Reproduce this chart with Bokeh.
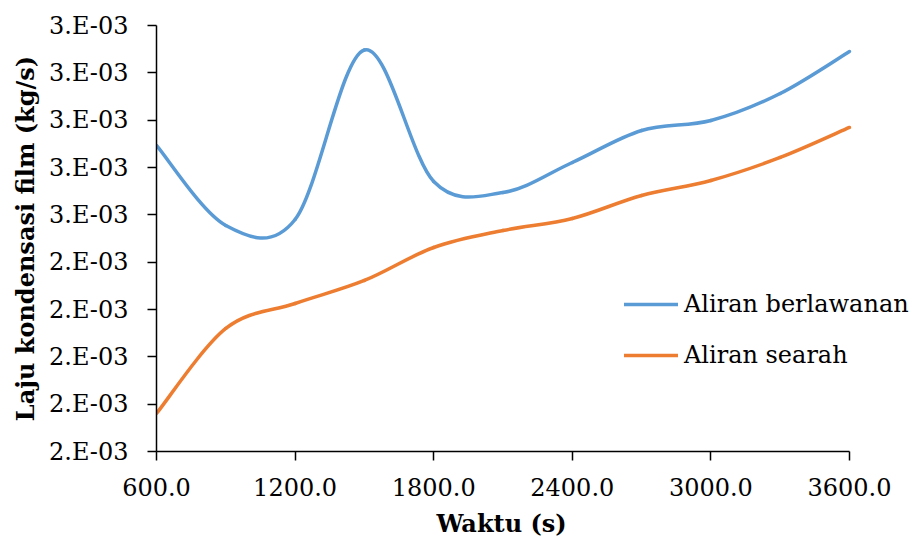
from bokeh.plotting import figure
from bokeh.models import Range1d, FixedTicker, Legend, LegendItem, ColumnDataSource, Title
from bokeh.embed import file_html
from bokeh.resources import INLINE

# ---- data ----
waktu = [600, 900, 1200, 1500, 1800, 2100, 2400, 2700, 3000, 3300, 3600]
berlawanan = [0.0026465, 0.0024775, 0.0024902, 0.0028483, 0.0025705, 0.0025472,
              0.0026106, 0.0026782, 0.0026993, 0.0027564, 0.0028451]
searah = [0.0020803, 0.0022599, 0.0023127, 0.0023613, 0.0024310, 0.0024669,
          0.0024923, 0.0025409, 0.0025726, 0.0026212, 0.0026846]
series_names = ["Aliran berlawanan", "Aliran searah"]
series_colors = ["#5B9BD5", "#ED7D31"]

x_ticks = [600, 1200, 1800, 2400, 3000, 3600]
x_tick_labels = ["600.0", "1200.0", "1800.0", "2400.0", "3000.0", "3600.0"]
y_ticks = [0.002, 0.0021, 0.0022, 0.0023, 0.0024, 0.0025, 0.0026, 0.0027, 0.0028, 0.0029]
y_tick_labels = ["2.E-03", "2.E-03", "2.E-03", "2.E-03", "2.E-03",
                 "3.E-03", "3.E-03", "3.E-03", "3.E-03", "3.E-03"]

FONT = "DejaVu Serif"

# frame spans the whole width to the right edge so the legend is not clipped;
# the axis itself is bounded to 600..3600
x_min, x_max = 600, 3600
frame_left, axis_right_px, total_w = 156, 849, 919
x_end = x_min + (total_w - frame_left) * (x_max - x_min) / (axis_right_px - frame_left)

p = figure(width=total_w, height=546, output_backend="svg", toolbar_location=None,
           x_range=Range1d(x_min, x_end), y_range=Range1d(0.0020, 0.0029),
           min_border_left=frame_left, min_border_right=0, min_border_top=25,
           min_border_bottom=95)
p.outline_line_color = None
p.xgrid.visible = False
p.ygrid.visible = False
p.background_fill_color = "white"
p.border_fill_color = "white"


def smooth_segments(xs, ys):
    """Excel-style smoothed line: cubic Bezier control points from neighbours."""
    n = len(xs)
    x0, y0, x1, y1, cx0, cy0, cx1, cy1 = [], [], [], [], [], [], [], []
    for i in range(n - 1):
        im = max(i - 1, 0)
        ip = min(i + 2, n - 1)
        x0.append(xs[i]); y0.append(ys[i])
        x1.append(xs[i + 1]); y1.append(ys[i + 1])
        cx0.append(xs[i] + (xs[i + 1] - xs[im]) / 6.0)
        cy0.append(ys[i] + (ys[i + 1] - ys[im]) / 6.0)
        cx1.append(xs[i + 1] - (xs[ip] - xs[i]) / 6.0)
        cy1.append(ys[i + 1] - (ys[ip] - ys[i]) / 6.0)
    return ColumnDataSource(dict(x0=x0, y0=y0, x1=x1, y1=y1,
                                 cx0=cx0, cy0=cy0, cx1=cx1, cy1=cy1))


items = []
for vals, name, color in zip([berlawanan, searah], series_names, series_colors):
    src = smooth_segments(waktu, vals)
    r = p.bezier(x0="x0", y0="y0", x1="x1", y1="y1", cx0="cx0", cy0="cy0",
                 cx1="cx1", cy1="cy1", source=src, line_color=color, line_width=3.5,
                 line_cap="round")
    items.append(LegendItem(label=name, renderers=[r], index=0))

legend = Legend(items=items, location=(468, 81), border_line_color=None,
                background_fill_alpha=0, padding=0, margin=0,
                glyph_width=54, glyph_height=30, label_height=30,
                spacing=21, label_standoff=6,
                label_text_font=FONT, label_text_font_size="24px",
                label_text_color="black")
p.add_layout(legend, "center")

for ax in (p.xaxis[0], p.yaxis[0]):
    ax.axis_line_color = "black"
    ax.axis_line_width = 1.5
    ax.major_tick_line_color = "black"
    ax.major_tick_line_width = 1.5
    ax.major_tick_in = 0
    ax.major_tick_out = 9
    ax.minor_tick_line_color = None
    ax.major_label_text_font = FONT
    ax.major_label_text_font_size = "24px"
    ax.major_label_text_color = "black"
    ax.axis_label_text_font = FONT
    ax.axis_label_text_font_size = "24px"
    ax.axis_label_text_font_style = "bold"
    ax.axis_label_text_color = "black"

p.xaxis.bounds = (x_min, x_max)
p.xaxis.ticker = FixedTicker(ticks=x_ticks)
p.xaxis.major_label_overrides = {t: l for t, l in zip(x_ticks, x_tick_labels)}
p.yaxis.ticker = FixedTicker(ticks=y_ticks)
p.yaxis.major_label_overrides = {t: l for t, l in zip(y_ticks, y_tick_labels)}

p.yaxis.axis_label = "Laju kondensasi film (kg/s)"
p.xaxis.major_label_standoff = 17
p.yaxis.major_label_standoff = 19
p.yaxis.axis_label_standoff = 6

# x-axis title, centred under the bounded axis (600..3600)
xtitle = Title(text="Waktu (s)", align="left", offset=280, standoff=17,
               text_font=FONT, text_font_size="24px", text_font_style="bold",
               text_color="black")
p.add_layout(xtitle, "below")

open("out.html", "w").write(file_html(p, INLINE))
